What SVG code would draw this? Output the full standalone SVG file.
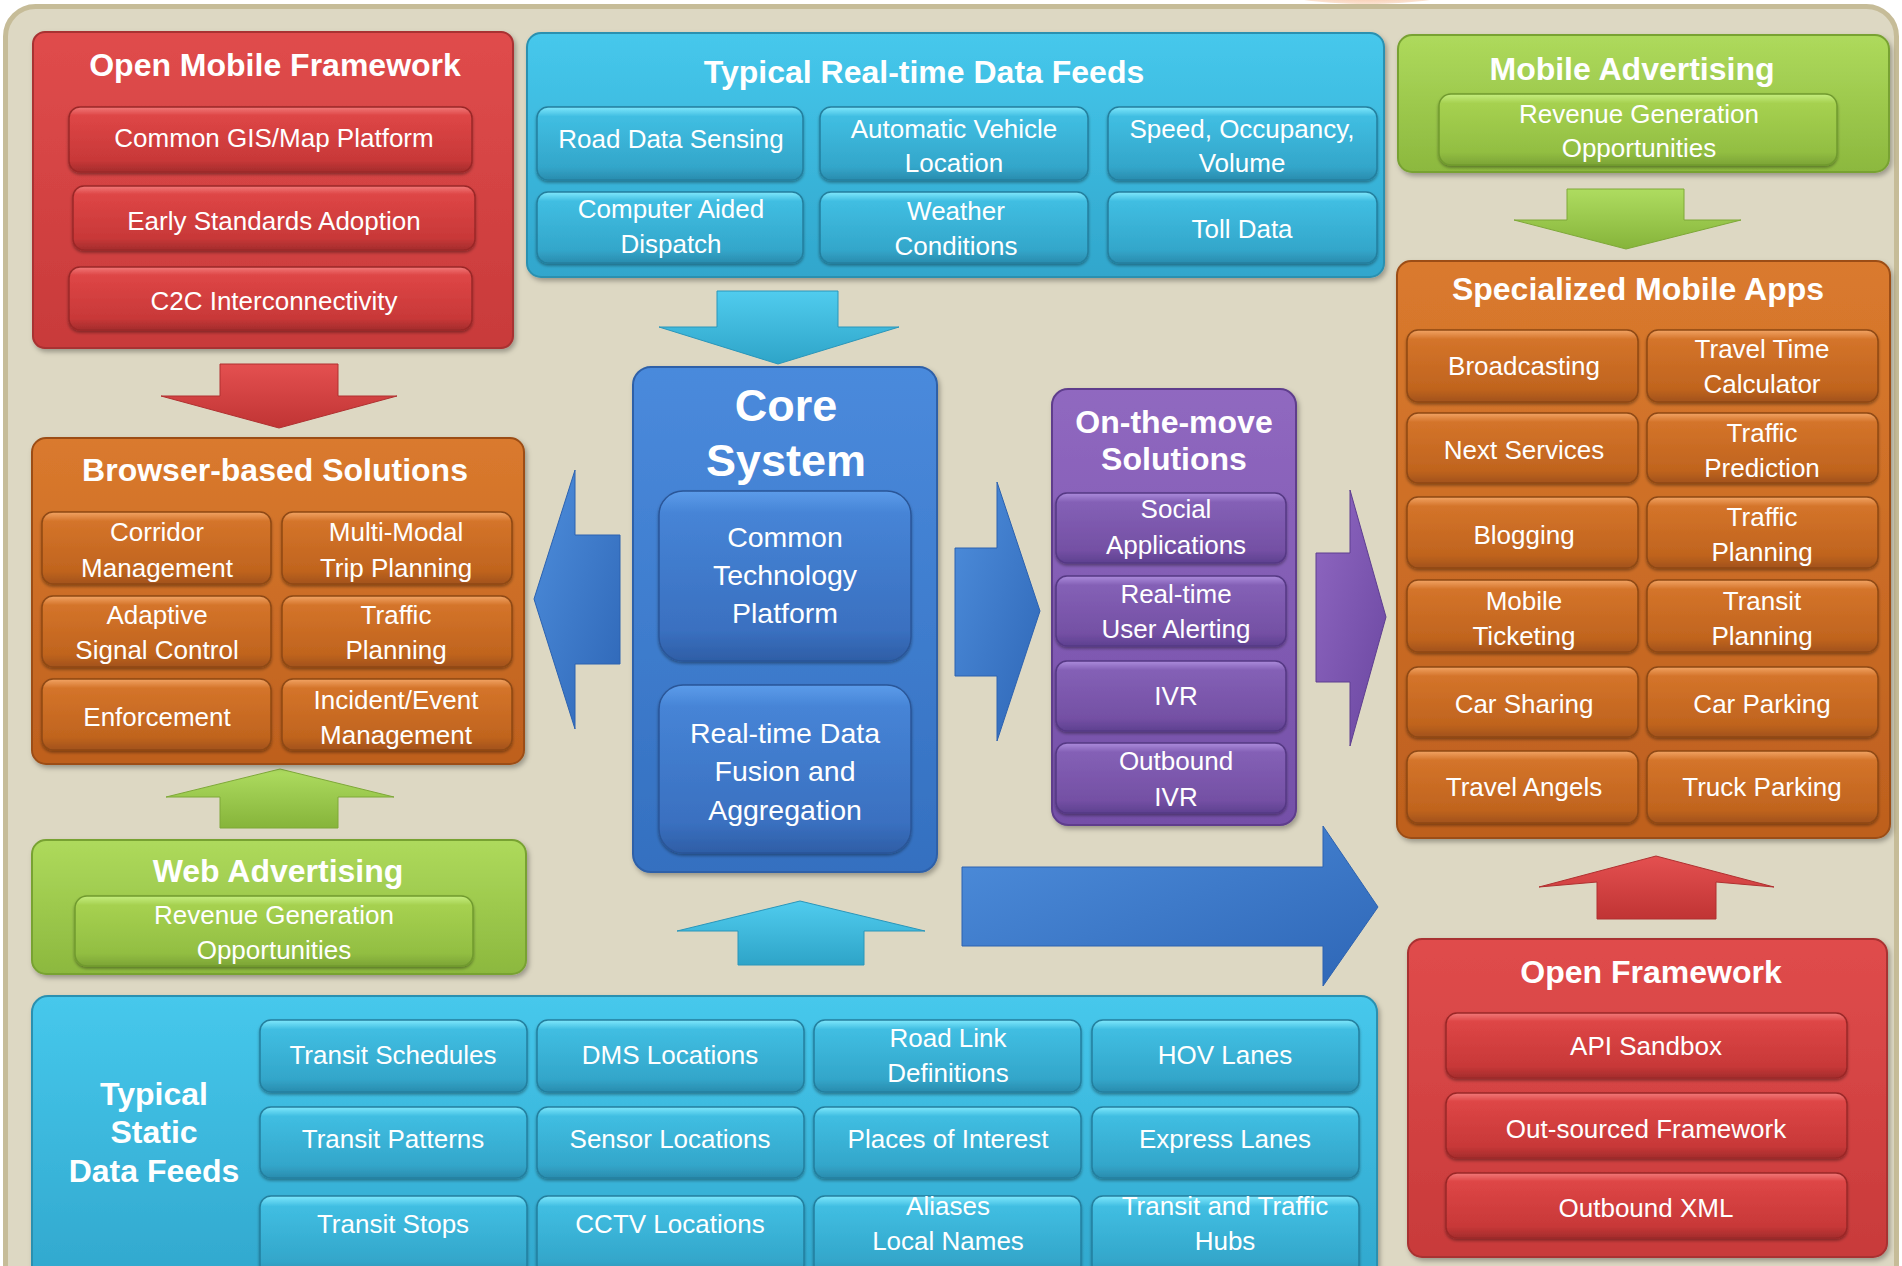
<svg xmlns="http://www.w3.org/2000/svg" width="1902" height="1266" viewBox="0 0 1902 1266">
<defs>
<style>
.t{font-family:"Liberation Sans",Arial,sans-serif;fill:#fff;text-anchor:middle}
.h{font-weight:bold;font-size:32px}
.i{font-size:26px}
.c{font-size:28.5px}
.k{font-weight:bold;font-size:45px}
.bx{filter:url(#sh)}
.it{stroke-width:1.5;filter:url(#sh2)}
</style>
<filter id="sh" x="-5%" y="-5%" width="112%" height="115%"><feDropShadow dx="2" dy="3" stdDeviation="2.5" flood-color="#000" flood-opacity="0.3"/></filter>
<filter id="sh2" x="-5%" y="-10%" width="110%" height="130%"><feDropShadow dx="0" dy="2" stdDeviation="1.5" flood-color="#000" flood-opacity="0.35"/></filter>
<radialGradient id="peach" cx="0.5" cy="0.5" r="0.5"><stop offset="0" stop-color="#F2A374"/><stop offset="1" stop-color="#FBE3D2"/></radialGradient>
<linearGradient id="rB" x1="0" y1="0" x2="0" y2="1"><stop offset="0" stop-color="#E04C4C"/><stop offset="1" stop-color="#C83A3A"/></linearGradient>
<linearGradient id="rI" x1="0" y1="0" x2="0" y2="1"><stop offset="0" stop-color="#F27A7A"/><stop offset="0.13" stop-color="#DE4646"/><stop offset="0.82" stop-color="#C83838"/><stop offset="1" stop-color="#A42C2C"/></linearGradient>
<linearGradient id="cB" x1="0" y1="0" x2="0" y2="1"><stop offset="0" stop-color="#46C8EC"/><stop offset="1" stop-color="#30A6CC"/></linearGradient>
<linearGradient id="cI" x1="0" y1="0" x2="0" y2="1"><stop offset="0" stop-color="#80E8FC"/><stop offset="0.13" stop-color="#40BEE2"/><stop offset="0.82" stop-color="#33A6CA"/><stop offset="1" stop-color="#2A8CAE"/></linearGradient>
<linearGradient id="gB" x1="0" y1="0" x2="0" y2="1"><stop offset="0" stop-color="#AEDA5C"/><stop offset="1" stop-color="#8CB83E"/></linearGradient>
<linearGradient id="gI" x1="0" y1="0" x2="0" y2="1"><stop offset="0" stop-color="#C6EE80"/><stop offset="0.13" stop-color="#A6D150"/><stop offset="0.82" stop-color="#92BE42"/><stop offset="1" stop-color="#7CA436"/></linearGradient>
<linearGradient id="oB" x1="0" y1="0" x2="0" y2="1"><stop offset="0" stop-color="#DA7A2E"/><stop offset="1" stop-color="#BE601E"/></linearGradient>
<linearGradient id="oI" x1="0" y1="0" x2="0" y2="1"><stop offset="0" stop-color="#F2A464"/><stop offset="0.13" stop-color="#D4742A"/><stop offset="0.82" stop-color="#C0641E"/><stop offset="1" stop-color="#A2521A"/></linearGradient>
<linearGradient id="pB" x1="0" y1="0" x2="0" y2="1"><stop offset="0" stop-color="#9068C0"/><stop offset="1" stop-color="#7450A8"/></linearGradient>
<linearGradient id="pI" x1="0" y1="0" x2="0" y2="1"><stop offset="0" stop-color="#AC8CDC"/><stop offset="0.13" stop-color="#8460B6"/><stop offset="0.82" stop-color="#7450A4"/><stop offset="1" stop-color="#5E4090"/></linearGradient>
<linearGradient id="bB" x1="0" y1="0" x2="0" y2="1"><stop offset="0" stop-color="#4A8ADC"/><stop offset="1" stop-color="#3470C0"/></linearGradient>
<linearGradient id="bI" x1="0" y1="0" x2="0" y2="1"><stop offset="0" stop-color="#5C9CEA"/><stop offset="0.13" stop-color="#4684D6"/><stop offset="0.82" stop-color="#3A70C0"/><stop offset="1" stop-color="#2E5EA6"/></linearGradient>
<linearGradient id="aB" x1="0" y1="0" x2="1" y2="1"><stop offset="0" stop-color="#4E8EDC"/><stop offset="1" stop-color="#2E66B6"/></linearGradient>
<linearGradient id="aR" x1="0" y1="0" x2="0" y2="1"><stop offset="0" stop-color="#E45050"/><stop offset="1" stop-color="#C03434"/></linearGradient>
<linearGradient id="aC" x1="0" y1="0" x2="0" y2="1"><stop offset="0" stop-color="#50CCEE"/><stop offset="1" stop-color="#2EA4C8"/></linearGradient>
<linearGradient id="aG" x1="0" y1="0" x2="0" y2="1"><stop offset="0" stop-color="#AEDC60"/><stop offset="1" stop-color="#86B43A"/></linearGradient>
<linearGradient id="aP" x1="0" y1="0" x2="1" y2="1"><stop offset="0" stop-color="#9068C2"/><stop offset="1" stop-color="#6A46A0"/></linearGradient>
</defs>

<rect width="1902" height="1266" fill="#FFFFFF"/>
<ellipse cx="1367" cy="-12" rx="95" ry="16" fill="url(#peach)"/>
<rect x="5.5" y="6.5" width="1891" height="1300" rx="30" fill="#DDD8C3" stroke="#C6BC98" stroke-width="5"/>

<g id="connectors">
<polygon points="220,364 338,364 338,396 397,396 279,428 161,396 220,396" fill="url(#aR)" stroke="#B03030" stroke-width="1"/>
<polygon points="717,291 838,291 838,327 899,327 778,364 659,327 717,327" fill="url(#aC)" stroke="#2A96BA" stroke-width="1"/>
<polygon points="1567,189 1684,189 1684,220 1741,220 1626,249 1514,220 1567,220" fill="url(#aG)" stroke="#7EA838" stroke-width="1"/>
<polygon points="280,769 394,797 338,797 338,828 220,828 220,797 166,797" fill="url(#aG)" stroke="#7EA838" stroke-width="1"/>
<polygon points="800,901 925,931 864,931 864,965 738,965 738,931 677,931" fill="url(#aC)" stroke="#2A96BA" stroke-width="1"/>
<polygon points="1656,856 1774,887 1716,882 1716,919 1597,919 1597,882 1539,887" fill="url(#aR)" stroke="#B03030" stroke-width="1"/>
<polygon points="534,599 575,470 575,535 620,535 620,664 575,664 575,729" fill="url(#aB)" stroke="#2C62B0" stroke-width="1"/>
<polygon points="955,548 997,548 997,482 1040,611 997,741 997,676 955,676" fill="url(#aB)" stroke="#2C62B0" stroke-width="1"/>
<polygon points="1316,553 1350,553 1350,490 1386,617 1350,746 1350,682 1316,682" fill="url(#aP)" stroke="#5E3E90" stroke-width="1"/>
<polygon points="962,867 1323,867 1323,826 1378,907 1323,986 1323,946 962,946" fill="url(#aB)" stroke="#2C62B0" stroke-width="1"/>
</g>

<g id="open-mobile-framework">
<rect class="bx" x="33" y="32" width="480" height="316" rx="12" fill="url(#rB)" stroke="#A83030" stroke-width="2"/>
<text class="t h" x="275" y="76">Open Mobile Framework</text>
<g fill="url(#rI)" stroke="#9A2828">
<rect class="it" x="69" y="107" width="403" height="65" rx="11"/>
<rect class="it" x="73" y="186" width="402" height="64" rx="11"/>
<rect class="it" x="69" y="267" width="403" height="63" rx="11"/>
</g>
<text class="t i" x="274" y="147">Common GIS/Map Platform</text>
<text class="t i" x="274" y="230">Early Standards Adoption</text>
<text class="t i" x="274" y="310">C2C Interconnectivity</text>
</g>

<g id="realtime-feeds">
<rect class="bx" x="527" y="33" width="857" height="244" rx="14" fill="url(#cB)" stroke="#2A90B0" stroke-width="2"/>
<text class="t h" x="924" y="83">Typical Real-time Data Feeds</text>
<g fill="url(#cI)" stroke="#247F9E">
<rect class="it" x="537" y="107" width="266" height="73" rx="11"/>
<rect class="it" x="820" y="107" width="268" height="73" rx="11"/>
<rect class="it" x="1108" y="107" width="269" height="73" rx="11"/>
<rect class="it" x="537" y="192" width="266" height="71" rx="11"/>
<rect class="it" x="820" y="192" width="268" height="71" rx="11"/>
<rect class="it" x="1108" y="192" width="269" height="71" rx="11"/>
</g>
<text class="t i" x="671" y="148">Road Data Sensing</text>
<text class="t i" x="954" y="138">Automatic Vehicle</text>
<text class="t i" x="954" y="172">Location</text>
<text class="t i" x="1242" y="138">Speed, Occupancy,</text>
<text class="t i" x="1242" y="172">Volume</text>
<text class="t i" x="671" y="218">Computer Aided</text>
<text class="t i" x="671" y="253">Dispatch</text>
<text class="t i" x="956" y="220">Weather</text>
<text class="t i" x="956" y="255">Conditions</text>
<text class="t i" x="1242" y="238">Toll Data</text>
</g>

<g id="mobile-advertising">
<rect class="bx" x="1398" y="35" width="491" height="137" rx="14" fill="url(#gB)" stroke="#78A232" stroke-width="2"/>
<text class="t h" x="1632" y="80">Mobile Advertising</text>
<rect class="it" x="1439" y="94" width="398" height="71" rx="12" fill="url(#gI)" stroke="#709A2E"/>
<text class="t i" x="1639" y="123">Revenue Generation</text>
<text class="t i" x="1639" y="157">Opportunities</text>
</g>

<g id="specialized-mobile-apps">
<rect class="bx" x="1397" y="261" width="493" height="577" rx="14" fill="url(#oB)" stroke="#9C4E16" stroke-width="2"/>
<text class="t h" x="1638" y="300">Specialized Mobile Apps</text>
<g fill="url(#oI)" stroke="#8E4814">
<rect class="it" x="1407" y="330" width="231" height="72" rx="11"/>
<rect class="it" x="1647" y="330" width="231" height="72" rx="11"/>
<rect class="it" x="1407" y="413" width="231" height="70" rx="11"/>
<rect class="it" x="1647" y="413" width="231" height="70" rx="11"/>
<rect class="it" x="1407" y="497" width="231" height="71" rx="11"/>
<rect class="it" x="1647" y="497" width="231" height="71" rx="11"/>
<rect class="it" x="1407" y="580" width="231" height="72" rx="11"/>
<rect class="it" x="1647" y="580" width="231" height="72" rx="11"/>
<rect class="it" x="1407" y="667" width="231" height="70" rx="11"/>
<rect class="it" x="1647" y="667" width="231" height="70" rx="11"/>
<rect class="it" x="1407" y="751" width="231" height="72" rx="11"/>
<rect class="it" x="1647" y="751" width="231" height="72" rx="11"/>
</g>
<text class="t i" x="1524" y="375">Broadcasting</text>
<text class="t i" x="1762" y="358">Travel Time</text>
<text class="t i" x="1762" y="393">Calculator</text>
<text class="t i" x="1524" y="459">Next Services</text>
<text class="t i" x="1762" y="442">Traffic</text>
<text class="t i" x="1762" y="477">Prediction</text>
<text class="t i" x="1524" y="544">Blogging</text>
<text class="t i" x="1762" y="526">Traffic</text>
<text class="t i" x="1762" y="561">Planning</text>
<text class="t i" x="1524" y="610">Mobile</text>
<text class="t i" x="1524" y="645">Ticketing</text>
<text class="t i" x="1762" y="610">Transit</text>
<text class="t i" x="1762" y="645">Planning</text>
<text class="t i" x="1524" y="713">Car Sharing</text>
<text class="t i" x="1762" y="713">Car Parking</text>
<text class="t i" x="1524" y="796">Travel Angels</text>
<text class="t i" x="1762" y="796">Truck Parking</text>
</g>

<g id="browser-solutions">
<rect class="bx" x="32" y="438" width="492" height="326" rx="14" fill="url(#oB)" stroke="#9C4E16" stroke-width="2"/>
<text class="t h" x="275" y="481">Browser-based Solutions</text>
<g fill="url(#oI)" stroke="#8E4814">
<rect class="it" x="42" y="512" width="229" height="72" rx="11"/>
<rect class="it" x="282" y="512" width="230" height="72" rx="11"/>
<rect class="it" x="42" y="596" width="229" height="71" rx="11"/>
<rect class="it" x="282" y="596" width="230" height="71" rx="11"/>
<rect class="it" x="42" y="679" width="229" height="71" rx="11"/>
<rect class="it" x="282" y="679" width="230" height="71" rx="11"/>
</g>
<text class="t i" x="157" y="541">Corridor</text>
<text class="t i" x="157" y="577">Management</text>
<text class="t i" x="396" y="541">Multi-Modal</text>
<text class="t i" x="396" y="577">Trip Planning</text>
<text class="t i" x="157" y="624">Adaptive</text>
<text class="t i" x="157" y="659">Signal Control</text>
<text class="t i" x="396" y="624">Traffic</text>
<text class="t i" x="396" y="659">Planning</text>
<text class="t i" x="157" y="726">Enforcement</text>
<text class="t i" x="396" y="709">Incident/Event</text>
<text class="t i" x="396" y="744">Management</text>
</g>

<g id="web-advertising">
<rect class="bx" x="32" y="840" width="494" height="134" rx="14" fill="url(#gB)" stroke="#78A232" stroke-width="2"/>
<text class="t h" x="278" y="882">Web Advertising</text>
<rect class="it" x="75" y="896" width="398" height="70" rx="12" fill="url(#gI)" stroke="#709A2E"/>
<text class="t i" x="274" y="924">Revenue Generation</text>
<text class="t i" x="274" y="959">Opportunities</text>
</g>

<g id="core-system">
<rect class="bx" x="633" y="367" width="304" height="505" rx="18" fill="url(#bB)" stroke="#2E60A8" stroke-width="2"/>
<text class="t k" x="786" y="421">Core</text>
<text class="t k" x="786" y="476">System</text>
<g fill="url(#bI)" stroke="#2A5698">
<rect class="it" x="659" y="491" width="252" height="170" rx="24"/>
<rect class="it" x="659" y="685" width="252" height="168" rx="24"/>
</g>
<text class="t c" x="785" y="547">Common</text>
<text class="t c" x="785" y="585">Technology</text>
<text class="t c" x="785" y="623">Platform</text>
<text class="t c" x="785" y="743">Real-time Data</text>
<text class="t c" x="785" y="781">Fusion and</text>
<text class="t c" x="785" y="820">Aggregation</text>
</g>

<g id="on-the-move">
<rect class="bx" x="1052" y="389" width="244" height="436" rx="16" fill="url(#pB)" stroke="#5E3E8C" stroke-width="2"/>
<text class="t h" x="1174" y="433">On-the-move</text>
<text class="t h" x="1174" y="470">Solutions</text>
<g fill="url(#pI)" stroke="#553884">
<rect class="it" x="1056" y="493" width="230" height="70" rx="11"/>
<rect class="it" x="1056" y="576" width="230" height="70" rx="11"/>
<rect class="it" x="1056" y="661" width="230" height="70" rx="11"/>
<rect class="it" x="1056" y="743" width="230" height="70" rx="11"/>
</g>
<text class="t i" x="1176" y="518">Social</text>
<text class="t i" x="1176" y="554">Applications</text>
<text class="t i" x="1176" y="603">Real-time</text>
<text class="t i" x="1176" y="638">User Alerting</text>
<text class="t i" x="1176" y="705">IVR</text>
<text class="t i" x="1176" y="770">Outbound</text>
<text class="t i" x="1176" y="806">IVR</text>
</g>

<g id="static-feeds">
<rect class="bx" x="32" y="996" width="1345" height="300" rx="16" fill="url(#cB)" stroke="#2A90B0" stroke-width="2"/>
<text class="t h" x="154" y="1105">Typical</text>
<text class="t h" x="154" y="1143">Static</text>
<text class="t h" x="154" y="1182">Data Feeds</text>
<g fill="url(#cI)" stroke="#247F9E">
<rect class="it" x="260" y="1020" width="267" height="72" rx="11"/>
<rect class="it" x="537" y="1020" width="267" height="72" rx="11"/>
<rect class="it" x="814" y="1020" width="267" height="72" rx="11"/>
<rect class="it" x="1092" y="1020" width="267" height="72" rx="11"/>
<rect class="it" x="260" y="1107" width="267" height="71" rx="11"/>
<rect class="it" x="537" y="1107" width="267" height="71" rx="11"/>
<rect class="it" x="814" y="1107" width="267" height="71" rx="11"/>
<rect class="it" x="1092" y="1107" width="267" height="71" rx="11"/>
<rect class="it" x="260" y="1196" width="267" height="80" rx="11"/>
<rect class="it" x="537" y="1196" width="267" height="80" rx="11"/>
<rect class="it" x="814" y="1196" width="267" height="80" rx="11"/>
<rect class="it" x="1092" y="1196" width="267" height="80" rx="11"/>
</g>
<text class="t i" x="393" y="1064">Transit Schedules</text>
<text class="t i" x="670" y="1064">DMS Locations</text>
<text class="t i" x="948" y="1047">Road Link</text>
<text class="t i" x="948" y="1082">Definitions</text>
<text class="t i" x="1225" y="1064">HOV Lanes</text>
<text class="t i" x="393" y="1148">Transit Patterns</text>
<text class="t i" x="670" y="1148">Sensor Locations</text>
<text class="t i" x="948" y="1148">Places of Interest</text>
<text class="t i" x="1225" y="1148">Express Lanes</text>
<text class="t i" x="393" y="1233">Transit Stops</text>
<text class="t i" x="670" y="1233">CCTV Locations</text>
<text class="t i" x="948" y="1215">Aliases</text>
<text class="t i" x="948" y="1250">Local Names</text>
<text class="t i" x="1225" y="1215">Transit and Traffic</text>
<text class="t i" x="1225" y="1250">Hubs</text>
</g>

<g id="open-framework">
<rect class="bx" x="1408" y="939" width="479" height="318" rx="14" fill="url(#rB)" stroke="#A83030" stroke-width="2"/>
<text class="t h" x="1651" y="983">Open Framework</text>
<g fill="url(#rI)" stroke="#9A2828">
<rect class="it" x="1446" y="1013" width="401" height="65" rx="11"/>
<rect class="it" x="1446" y="1093" width="401" height="65" rx="11"/>
<rect class="it" x="1446" y="1173" width="401" height="65" rx="11"/>
</g>
<text class="t i" x="1646" y="1055">API Sandbox</text>
<text class="t i" x="1646" y="1138">Out-sourced Framework</text>
<text class="t i" x="1646" y="1217">Outbound XML</text>
</g>
</svg>
